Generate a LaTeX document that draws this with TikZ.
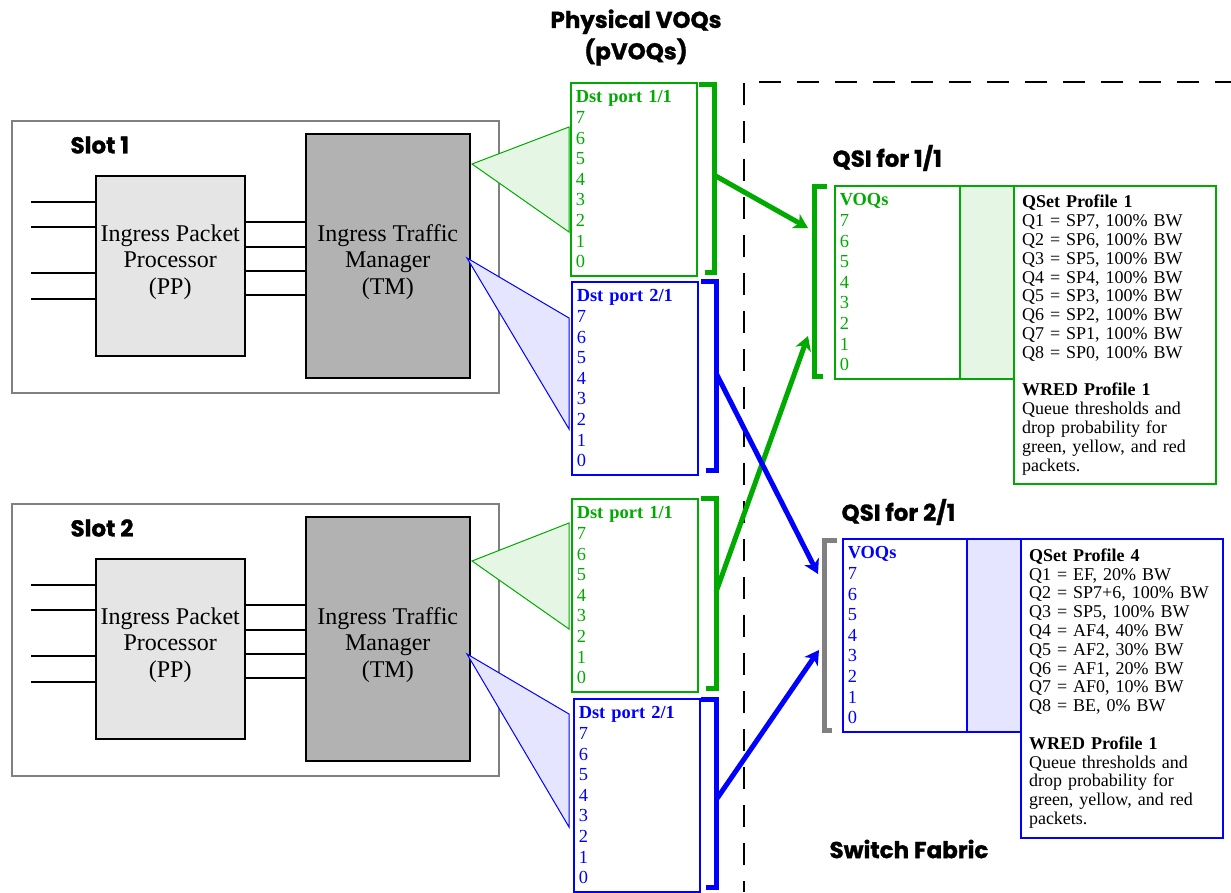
\documentclass[tikz,border=0pt]{standalone}
\usepackage{fontspec}
\setmainfont{Liberation Serif}
\newfontfamily\headfont{Poppins}[BoldFeatures={FakeBold=1.2}]
\usetikzlibrary{arrows.meta}

\definecolor{qgreen}{RGB}{0,170,0}
\definecolor{qblue}{RGB}{0,0,255}
\newcommand{\voqlist}{7\\6\\5\\4\\3\\2\\1\\0}

\begin{document}
\begin{tikzpicture}[x=1pt, y=-1pt,
    slotbox/.style={draw=gray, line width=2, anchor=north west, inner sep=0},
    chipbox/.style={draw, line width=1.5, fill=#1, anchor=north west, inner sep=0},
    chiptext/.style={align=center, font=\fontsize{24}{26.5}\selectfont},
    headtext/.style={font=\headfont\bfseries\fontsize{23}{31.5}\selectfont},
    wire/.style={line width=2},
    bus/.style={line width=2.5},
    callout/.style={draw=#1, fill=#1!10, line width=1},
    dstbox/.style={draw=#1, text=#1, line width=1.5, anchor=north west,
        minimum width=126, minimum height=193, text width=116, inner xsep=5,
        inner ysep=0, align=left, font=\fontsize{18.4}{20.6}\selectfont},
    colbox/.style={draw=#1, fill=#1!10, line width=2, anchor=north west,
        minimum width=54, minimum height=193, inner sep=0},
    profbox/.style={draw=#1, line width=2, anchor=north west, minimum width=202,
        minimum height=298, text width=186, inner xsep=8, inner ysep=0,
        align=left, font=\fontsize{18}{18.8}\selectfont},
    bracket/.style={draw=#1, line width=5},
    link/.style={draw=#1, line width=5, -{Stealth[length=14pt, width=16pt, inset=4pt]}}]

    \useasboundingbox (0,0) rectangle (1231,892);

    % line cards
    \foreach \s/\dy in {1/0, 2/383} {
        \node[slotbox, minimum width=487, minimum height=272] (slot\s) at (11,120+\dy) {};
        \node[headtext, anchor=west] (slotlabel\s) at (67,145+\dy) {Slot \s};
        \node[chipbox=gray!20, minimum width=149, minimum height=180] (pp\s) at (95,175+\dy) {};
        \node[chipbox=gray!60, minimum width=164, minimum height=244] (tm\s) at (305,133+\dy) {};
        \node[chiptext] (pptext\s) at (pp\s |- 0,262+\dy) {Ingress Packet\\Processor\\(PP)};
        \node[chiptext] (tmtext\s) at (tm\s |- 0,262+\dy) {Ingress Traffic\\Manager\\(TM)};
        \foreach \y in {202,227,273,299}
            \draw[wire] (31,\y+\dy) -- (pp\s.west |- 0,\y+\dy);
        \foreach \y in {222,247,271,295}
            \draw[bus] (pp\s.east |- 0,\y+\dy) -- (tm\s.west |- 0,\y+\dy);
    }

    % pVOQs
    \node[headtext, align=center] (pvoqlabel) at (636,37.5) {Physical VOQs\\(pVOQs)};

    \draw[callout=qgreen] (472,164) -- (569,127) -- (569,232) -- cycle;
    \draw[callout=qblue] (467,258) -- (569,318) -- (569,429) -- cycle;
    \draw[callout=qgreen] (472,561) -- (569,523) -- (569,629) -- cycle;
    \draw[callout=qblue] (467,654) -- (569,714) -- (569,827) -- cycle;

    \node[dstbox=qgreen] (dst1a) at (570,82) {\textbf{Dst port 1/1}\\\voqlist};
    \node[dstbox=qblue] (dst1b) at (571,281) {\textbf{Dst port 2/1}\\\voqlist};
    \node[dstbox=qgreen] (dst2a) at (571,498) {\textbf{Dst port 1/1}\\\voqlist};
    \node[dstbox=qblue] (dst2b) at (573,698) {\textbf{Dst port 2/1}\\\voqlist};

    \draw[bracket=qgreen] (699,84.5) -- (714,84.5) -- (714,272.5) -- (705,272.5);
    \draw[bracket=qblue] (701,281) -- (716,281) -- (716,470) -- (706,470);
    \draw[bracket=qgreen] (701,498) -- (716,498) -- (716,688) -- (706,688);
    \draw[bracket=qblue] (701,699.5) -- (716,699.5) -- (716,887) -- (706,887);

    % switch fabric
    \draw[line width=2, dash pattern=on 22 off 16, dash phase=11] (744,892) -- (744,82) -- (1231,82);
    \node[headtext, anchor=west] (fabriclabel) at (826,849) {Switch Fabric};

    \node[headtext, anchor=west] (qsilabel1) at (829,158) {QSI for 1/1};
    \node[dstbox=qgreen, minimum width=125, text width=115] (voq1) at (834,185) {\textbf{VOQs}\\\voqlist};
    \node[colbox=qgreen] (col1) at (959,185) {};
    \node[profbox=qgreen] (prof1) at (1013,185) {\textbf{QSet Profile 1}\\
        Q1 = SP7, 100\% BW\\Q2 = SP6, 100\% BW\\Q3 = SP5, 100\% BW\\Q4 = SP4, 100\% BW\\
        Q5 = SP3, 100\% BW\\Q6 = SP2, 100\% BW\\Q7 = SP1, 100\% BW\\Q8 = SP0, 100\% BW\\[18.8pt]
        \textbf{WRED Profile 1}\\Queue thresholds and\\drop probability for\\green, yellow, and red\\packets.};
    \draw[bracket=qgreen] (827,186) -- (814,186) -- (814,376) -- (823,376);

    \node[headtext, anchor=west] (qsilabel2) at (838,512) {QSI for 2/1};
    \node[dstbox=qblue, minimum width=124, text width=114] (voq2) at (842,538) {\textbf{VOQs}\\\voqlist};
    \node[colbox=qblue] (col2) at (966,538) {};
    \node[profbox=qblue, minimum height=299] (prof2) at (1020,538) {\textbf{QSet Profile 4}\\
        Q1 = EF, 20\% BW\\Q2 = SP7+6, 100\% BW\\Q3 = SP5, 100\% BW\\Q4 = AF4, 40\% BW\\
        Q5 = AF2, 30\% BW\\Q6 = AF1, 20\% BW\\Q7 = AF0, 10\% BW\\Q8 = BE, 0\% BW\\[18.8pt]
        \textbf{WRED Profile 1}\\Queue thresholds and\\drop probability for\\green, yellow, and red\\packets.};
    \draw[bracket=gray] (837,540) -- (824,540) -- (824,730) -- (832,730);

    % pVOQ to QSI
    \coordinate (out1a) at (714,175);
    \coordinate (out2a) at (716,592);
    \coordinate (out1b) at (716,373);
    \coordinate (out2b) at (716,800);
    \coordinate (in1a) at (808,228);
    \coordinate (in2a) at (808,336);
    \coordinate (in1b) at (818,574);
    \coordinate (in2b) at (819,650);
    \draw[link=qgreen] (out1a) -- (in1a);
    \draw[link=qgreen] (out2a) -- (in2a);
    \draw[link=qblue] (out1b) -- (in1b);
    \draw[link=qblue] (out2b) -- (in2b);
\end{tikzpicture}
\end{document}
